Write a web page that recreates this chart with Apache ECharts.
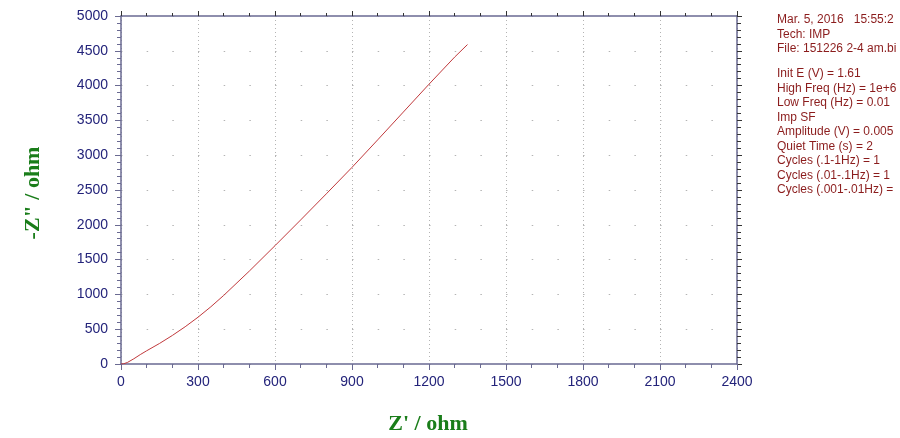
<!DOCTYPE html>
<html>
<head>
<meta charset="utf-8">
<script src="https://cdn.jsdelivr.net/npm/echarts@6/dist/echarts.min.js"></script>
<style>html,body{margin:0;padding:0;background:#fff}#c{width:900px;height:438px}</style>
</head>
<body>
<div id="c"></div>
<script>
const zReal = [0,10,25,50,75,100,150,200,250,300,350,400,500,600,700,800,900,1000,1100,1200,1300,1350];
const zImag = [0,3,22,75,135,190,295,410,535,672,822,985,1335,1700,2070,2445,2825,3220,3620,4020,4410,4590];
const infoLines = [
  "Mar. 5, 2016   15:55:2",
  "Tech: IMP",
  "File: 151226 2-4 am.bi",
  "Init E (V) = 1.61",
  "High Freq (Hz) = 1e+6",
  "Low Freq (Hz) = 0.01",
  "Imp SF",
  "Amplitude (V) = 0.005",
  "Quiet Time (s) = 2",
  "Cycles (.1-1Hz) = 1",
  "Cycles (.01-.1Hz) = 1",
  "Cycles (.001-.01Hz) ="
];
const xTitle = "Z' / ohm";
const yTitle = '-Z" / ohm';

const axisColor = '#6a6a92';
const labelColor = '#23237a';
const chart = echarts.init(document.getElementById('c'), null, {renderer:'canvas'});

const infoY = [20,34.5,49,74,88.5,103,117.5,132,146.5,161,175.5,190];
const graphics = infoLines.map((t,i)=>({
  type:'text', left:777, top: infoY[i]-6,
  style:{text:t, fill:'#8b1c1c', font:'12px "Liberation Sans", Arial, sans-serif'}
}));
graphics.push({type:'text', x:428, y:424, style:{text:xTitle, fill:'#1a7d1a', font:'bold 22px "Liberation Serif", "Times New Roman", serif', align:'center', verticalAlign:'middle'}});
graphics.push({type:'text', x:33, y:193, rotation:Math.PI/2, style:{text:yTitle, fill:'#1a7d1a', font:'bold 22px "Liberation Serif", "Times New Roman", serif', align:'center', verticalAlign:'middle'}});

const data = zReal.map((x,i)=>[x, zImag[i]]);
const plain = v => String(v);

chart.setOption({
  animation:false,
  backgroundColor:'#fff',
  grid:{left:121, top:16, width:616, height:348, containLabel:false},
  xAxis:[{
    type:'value', min:0, max:2400, interval:300, position:'bottom',
    axisLine:{show:true, onZero:false, lineStyle:{color:axisColor, width:1.5}},
    axisTick:{show:true, length:6, lineStyle:{color:axisColor}},
    minorTick:{show:true, splitNumber:3, length:4, lineStyle:{color:axisColor}},
    axisLabel:{color:labelColor, fontSize:14, fontFamily:'"Liberation Sans", Arial, sans-serif', margin:11, formatter:plain},
    splitLine:{show:true, lineStyle:{color:'#b4b4b4', type:[1,3], width:1}}
  },{
    type:'value', min:0, max:2400, interval:300, position:'top',
    axisLine:{show:true, onZero:false, lineStyle:{color:axisColor, width:1.5}},
    axisTick:{show:true, length:5, lineStyle:{color:'#333'}},
    minorTick:{show:true, splitNumber:3, length:3, lineStyle:{color:'#333'}},
    axisLabel:{show:false}, splitLine:{show:false}
  }],
  yAxis:[{
    type:'value', min:0, max:5000, interval:500, position:'left',
    axisLine:{show:true, onZero:false, lineStyle:{color:axisColor, width:1.5}},
    axisTick:{show:true, length:6, lineStyle:{color:axisColor}},
    minorTick:{show:true, splitNumber:5, length:4, lineStyle:{color:axisColor}},
    axisLabel:{color:labelColor, fontSize:14, fontFamily:'"Liberation Sans", Arial, sans-serif', margin:13, formatter:plain},
    splitLine:{show:true, lineStyle:{color:'#b4b4b4', type:[1.5,24.17], width:1}}
  },{
    type:'value', min:0, max:5000, interval:500, position:'right',
    axisLine:{show:true, onZero:false, lineStyle:{color:axisColor, width:1.5}},
    axisTick:{show:true, length:5, lineStyle:{color:'#333'}},
    minorTick:{show:true, splitNumber:5, length:4, lineStyle:{color:'#333'}},
    axisLabel:{show:false}, splitLine:{show:false}
  }],
  series:[{
    type:'line', data:data, xAxisIndex:0, yAxisIndex:0,
    showSymbol:false, smooth:false,
    lineStyle:{color:'#c0393c', width:1}
  }],
  graphic:graphics
});
</script>
</body>
</html>
